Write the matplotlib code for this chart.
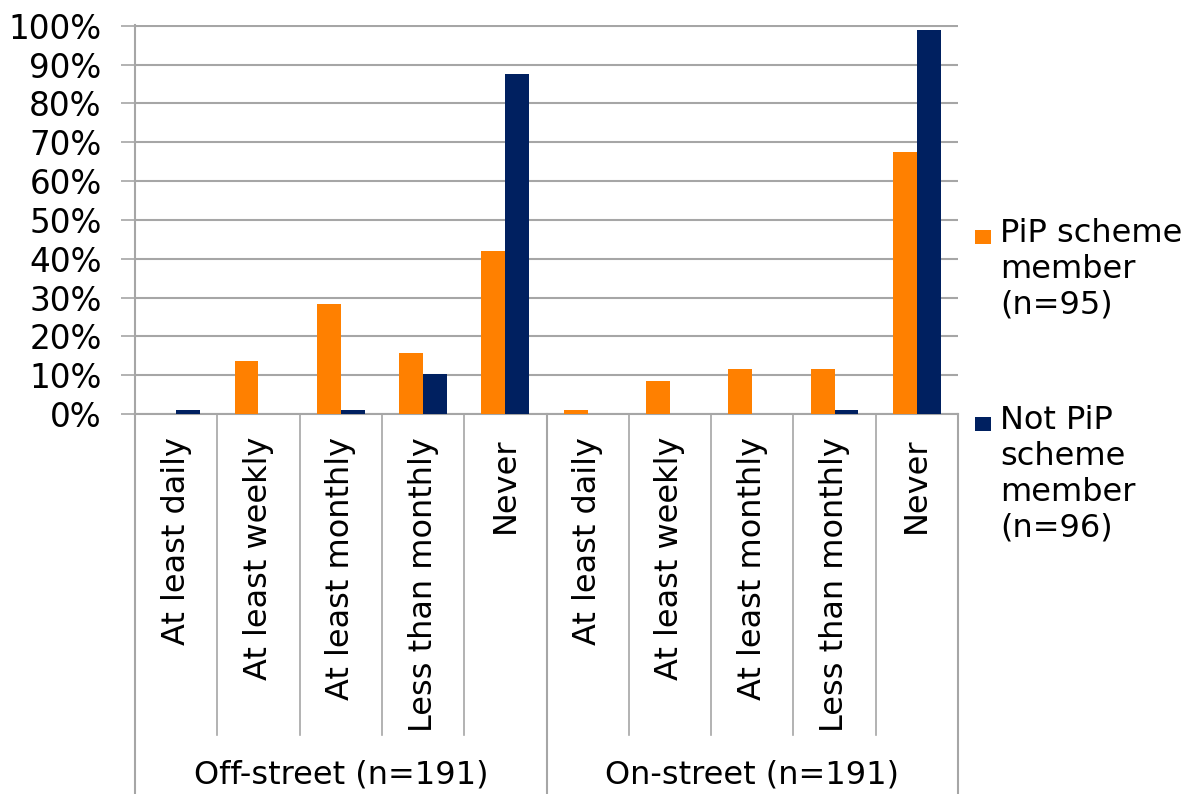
import matplotlib
matplotlib.use("Agg")
import matplotlib.pyplot as plt
from matplotlib.patches import Rectangle
from matplotlib.transforms import blended_transform_factory
import numpy as np

plt.rcParams['font.family'] = ['DejaVu Sans']

groups = ["Off-street (n=191)", "On-street (n=191)"]
frequencies = ["At least daily", "At least weekly", "At least monthly",
               "Less than monthly", "Never"]
series_names = ["PiP scheme\nmember\n(n=95)", "Not PiP\nscheme\nmember\n(n=96)"]
pip_member = [0.0, 13.7, 28.4, 15.8, 42.1, 1.05, 8.4, 11.6, 11.6, 67.4]
not_pip_member = [1.04, 0.0, 1.04, 10.4, 87.5, 0.0, 0.0, 0.0, 1.04, 98.96]
yticks = [0, 10, 20, 30, 40, 50, 60, 70, 80, 90, 100]

colors = ["#FF8000", "#002060"]
grid_col = "#A6A6A6"

W, H = 1188, 794
fig = plt.figure(figsize=(W / 100, H / 100), dpi=100)
x0, x1, ybot, ytop = 135, 958, 414, 25
ax = fig.add_axes([x0 / W, 1 - ybot / H, (x1 - x0) / W, (ybot - ytop) / H])

n = len(pip_member)
x = np.arange(n)
bw = 0.29
ax.bar(x - bw / 2, pip_member, width=bw, color=colors[0], zorder=3)
ax.bar(x + bw / 2, not_pip_member, width=bw, color=colors[1], zorder=3)

ax.set_xlim(-0.5, n - 0.5)
ax.set_ylim(0, 100.2)
ax.set_yticks(yticks)
ax.set_yticklabels([f"{v}%" for v in yticks], fontsize=23.5)
ax.yaxis.grid(True, color=grid_col, linewidth=1.5, zorder=0)
ax.set_axisbelow(True)
ax.tick_params(axis='y', length=10, width=1.2, color=grid_col, pad=14)
ax.set_xticks([])
for s in ["top", "right"]:
    ax.spines[s].set_visible(False)
for s in ["left", "bottom"]:
    ax.spines[s].set_color(grid_col)
    ax.spines[s].set_linewidth(1.5)

trans = blended_transform_factory(ax.transData, ax.transAxes)
ph = ybot - ytop
inner_bottom = -(735 - ybot) / ph
outer_bottom = -(H - ybot) / ph
for i in range(n + 1):
    xb = i - 0.5
    if i % 5 == 0:
        ax.plot([xb, xb], [0, outer_bottom], color=grid_col, lw=1.5,
                transform=trans, clip_on=False)
    else:
        ax.plot([xb, xb], [0, inner_bottom], color=grid_col, lw=1.2,
                transform=trans, clip_on=False)

label_top = -(437 - ybot) / ph
for g in range(len(groups)):
    for j, f in enumerate(frequencies):
        ax.text(g * 5 + j, label_top, f, rotation=90, ha='center', va='top',
                fontsize=23, transform=trans, color='black')
    ax.text(g * 5 + 2, -(775 - ybot) / ph, groups[g], ha='center',
            va='center', fontsize=23, transform=trans, color='black')

# legend
leg_items = [(237, colors[0], series_names[0]), (424, colors[1], series_names[1])]
for yc, col, lab in leg_items:
    fig.add_artist(Rectangle((975 / W, 1 - (yc + 7) / H), 16 / W, 14 / H,
                             facecolor=col, edgecolor='none',
                             transform=fig.transFigure))
    fig.text(1000 / W, 1 - (yc - 19) / H, lab, ha='left', va='top',
             fontsize=23, linespacing=1.2)

fig.savefig("out.png", dpi=100, facecolor='white')
